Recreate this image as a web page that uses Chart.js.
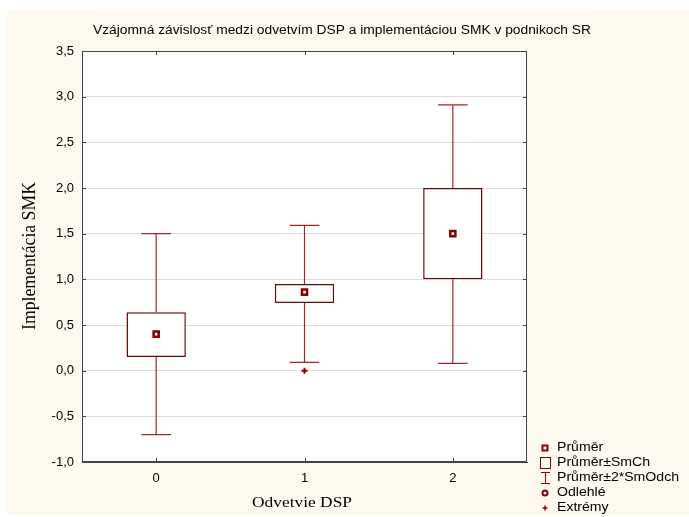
<!DOCTYPE html>
<html>
<head>
<meta charset="utf-8">
<script src="https://cdn.jsdelivr.net/npm/chart.js@4/dist/chart.umd.min.js"></script>
<style>
  body { margin: 0; background: #ffffff; }
</style>
</head>
<body>
<canvas id="boxChart" width="689" height="517"></canvas>
<script>
const groups = [0, 1, 2];
const means = [0.40, 0.86, 1.50];
const boxLow = [0.15, 0.74, 1.00];
const boxHigh = [0.64, 0.95, 2.00];
const whiskerLow = [-0.70, 0.09, 0.08];
const whiskerHigh = [1.50, 1.59, 2.91];
const extremeX = [1];
const extremeY = [0.00];
const legendLabels = ['Průměr', 'Průměr±SmCh', 'Průměr±2*SmOdch', 'Odlehlé', 'Extrémy'];

const titleText = 'Vzájomná závislosť medzi odvetvím DSP a implementáciou SMK v podnikoch SR';
const xTitle = 'Odvetvie DSP';
const yTitle = 'Implementácia SMK';

const dark = '#6a0a0a';
const red = '#8b0000';

// draw a text squeezed/stretched to a given width (the reference is widened)
function fitText(ctx, text, x, y, font, width, yScale, rotate) {
    ctx.save();
    ctx.font = font;
    ctx.textAlign = 'center';
    ctx.textBaseline = 'middle';
    ctx.fillStyle = '#000';
    const sx = width / ctx.measureText(text).width;
    ctx.translate(x, y);
    if (rotate) ctx.rotate(-Math.PI / 2);
    ctx.scale(sx, yScale);
    ctx.fillText(text, 0, 0);
    ctx.restore();
}

const background = {
    id: 'background',
    beforeDraw(chart) {
        const ctx = chart.ctx;
        const a = chart.chartArea;
        ctx.save();
        ctx.fillStyle = '#ffffff';
        ctx.fillRect(0, 0, chart.width, chart.height);
        ctx.fillStyle = '#fef9ee';
        ctx.fillRect(7, 10, chart.width - 7, chart.height - 12);
        ctx.fillStyle = '#ffffff';
        ctx.fillRect(a.left, a.top, a.right - a.left, a.bottom - a.top);
        ctx.restore();
    }
};

const whiskers = {
    id: 'whiskers',
    beforeDatasetsDraw(chart) {
        const ctx = chart.ctx;
        const xs = chart.scales.x;
        const ys = chart.scales.y;
        const a = chart.chartArea;
        ctx.save();
        // frame and inward ticks
        ctx.strokeStyle = '#444';
        ctx.lineWidth = 1;
        ctx.strokeRect(a.left + 0.5, a.top + 0.5, a.right - a.left - 1, a.bottom - a.top - 1);
        ctx.beginPath();
        ys.ticks.forEach(t => {
            const py = Math.round(ys.getPixelForValue(t.value)) + 0.5;
            ctx.moveTo(a.left, py); ctx.lineTo(a.left + 4, py);
            ctx.moveTo(a.right, py); ctx.lineTo(a.right - 4, py);
        });
        groups.forEach(g => {
            const px = Math.round(xs.getPixelForValue(g)) + 0.5;
            ctx.moveTo(px, a.bottom); ctx.lineTo(px, a.bottom - 4);
            ctx.moveTo(px, a.top); ctx.lineTo(px, a.top + 4);
        });
        ctx.stroke();

        ctx.strokeStyle = '#9a2a2a';
        ctx.lineWidth = 1.2;
        groups.forEach((g, i) => {
            const px = xs.getPixelForValue(g);
            const half = (xs.getPixelForValue(g + 0.1) - px);
            const hi = ys.getPixelForValue(whiskerHigh[i]);
            const lo = ys.getPixelForValue(whiskerLow[i]);
            ctx.beginPath();
            ctx.moveTo(px, ys.getPixelForValue(boxHigh[i])); ctx.lineTo(px, hi);
            ctx.moveTo(px, ys.getPixelForValue(boxLow[i])); ctx.lineTo(px, lo);
            ctx.moveTo(px - half, hi); ctx.lineTo(px + half, hi);
            ctx.moveTo(px - half, lo); ctx.lineTo(px + half, lo);
            ctx.stroke();
        });
        ctx.restore();
    }
};

const texts = {
    id: 'texts',
    afterDraw(chart) {
        const ctx = chart.ctx;
        fitText(ctx, titleText, 342, 31, '12px "Liberation Sans"', 498, 1, false);
        fitText(ctx, xTitle, 302, 503, '15px "Liberation Serif"', 100, 1, false);
        fitText(ctx, yTitle, 30, 256, '17px "Liberation Serif"', 148, 1.1, true);

        // legend
        ctx.save();
        ctx.font = '12px "Liberation Sans"';
        const sx = 122 / ctx.measureText(legendLabels[2]).width;
        legendLabels.forEach((lab, i) => {
            const y = 448 + i * 15;
            const mx = 545;
            ctx.fillStyle = red;
            ctx.strokeStyle = red;
            ctx.lineWidth = 1;
            if (i === 0) {
                ctx.fillRect(mx - 3.5, y - 3.5, 7, 7);
                ctx.fillStyle = '#fff';
                ctx.fillRect(mx - 1.5, y - 1.5, 3, 3);
            } else if (i === 1) {
                ctx.strokeStyle = dark;
                ctx.strokeRect(mx - 4.5, y - 5.5, 10, 11);
            } else if (i === 2) {
                ctx.beginPath();
                ctx.moveTo(mx - 4, y - 5.5); ctx.lineTo(mx + 5, y - 5.5);
                ctx.moveTo(mx + 0.5, y - 5.5); ctx.lineTo(mx + 0.5, y + 5.5);
                ctx.moveTo(mx - 4, y + 5.5); ctx.lineTo(mx + 5, y + 5.5);
                ctx.stroke();
            } else if (i === 3) {
                ctx.beginPath();
                ctx.arc(mx, y, 2.5, 0, Math.PI * 2);
                ctx.lineWidth = 2;
                ctx.stroke();
            } else {
                ctx.lineWidth = 1.5;
                ctx.beginPath();
                ctx.moveTo(mx - 2.5, y); ctx.lineTo(mx + 2.5, y);
                ctx.moveTo(mx, y - 2.5); ctx.lineTo(mx, y + 2.5);
                ctx.stroke();
            }
            ctx.save();
            ctx.fillStyle = '#000';
            ctx.textAlign = 'left';
            ctx.textBaseline = 'middle';
            ctx.translate(557, y);
            ctx.scale(sx, 1);
            ctx.fillText(lab, 0, 0);
            ctx.restore();
        });
        ctx.restore();
    }
};

const ctxBox = document.getElementById('boxChart').getContext('2d');
const boxChart = new Chart(ctxBox, {
    type: 'bar',
    data: {
        datasets: [{
            label: 'Průměr',
            type: 'scatter',
            data: groups.map((g, i) => ({ x: g, y: means[i] })),
            pointStyle: 'rect',
            pointRadius: 3.6,
            backgroundColor: '#ffffff',
            borderColor: red,
            borderWidth: 2.5,
            order: 0
        }, {
            label: 'Extrémy',
            type: 'scatter',
            data: extremeX.map((x, i) => ({ x: x, y: extremeY[i] })),
            pointStyle: 'cross',
            pointRadius: 3,
            borderColor: red,
            borderWidth: 2,
            order: 0
        }, {
            label: 'Průměr±SmCh',
            data: groups.map((g, i) => ({ x: g, y: [boxLow[i], boxHigh[i]] })),
            backgroundColor: '#ffffff',
            borderColor: dark,
            borderWidth: 1.5,
            borderSkipped: false,
            barPercentage: 0.4,
            categoryPercentage: 1,
            order: 1
        }]
    },
    options: {
        responsive: false,
        animation: false,
        layout: { padding: { top: 51, right: 162, left: 0, bottom: 0 } },
        plugins: {
            legend: { display: false },
            tooltip: { enabled: false }
        },
        scales: {
            x: {
                type: 'linear',
                min: -0.5,
                max: 2.5,
                offset: false,
                afterBuildTicks: scale => { scale.ticks = groups.map(v => ({ value: v })); },
                afterFit: scale => { scale.height = 55; },
                ticks: {
                    padding: 9,
                    color: '#000',
                    font: { family: '"Liberation Sans"', size: 13 },
                    callback: v => String(v)
                },
                grid: { display: false, drawTicks: false, offset: false },
                border: { color: '#444' }
            },
            y: {
                min: -1,
                max: 3.5,
                afterFit: scale => { scale.width = 82; },
                ticks: {
                    stepSize: 0.5,
                    padding: 8,
                    color: '#000',
                    font: { family: '"Liberation Sans"', size: 13 },
                    callback: v => v.toFixed(1).replace('.', ',')
                },
                grid: { color: '#dddddd', drawTicks: false },
                border: { color: '#444' }
            }
        }
    },
    plugins: [background, whiskers, texts]
});
</script>
</body>
</html>
